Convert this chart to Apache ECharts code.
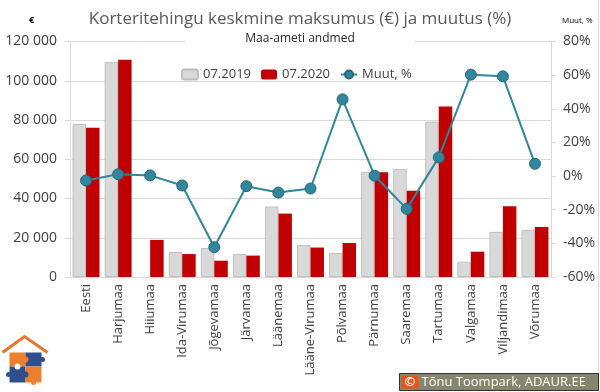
<!DOCTYPE html>
<html><head><meta charset="utf-8">
<script src="https://cdn.jsdelivr.net/npm/echarts@6/dist/echarts.min.js"></script>
<style>html,body{margin:0;padding:0;background:#fff}#c{width:600px;height:392px}</style>
</head><body><div id="c"></div>
<script>
const categories = ['Eesti','Harjumaa','Hiiumaa','Ida-Virumaa','Jõgevamaa','Järvamaa','Läänemaa','Lääne-Virumaa','Põlvamaa','Pärnumaa','Saaremaa','Tartumaa','Valgamaa','Viljandimaa','Võrumaa'];
const values2019 = [78000,109500,null,12800,14800,11700,35900,16300,12200,53600,55100,79200,7800,23000,24000];
const values2020 = [76000,110700,18900,11700,8300,10900,32300,15000,17300,53400,43900,86900,12900,36000,25500];
const changePct = [-2.6,1.1,0.4,-5.6,-42.3,-6.0,-9.8,-7.4,45.6,0.2,-19.5,11.1,60.3,59.3,7.3];
const leftTicks = {min:0,max:120000,interval:20000};
const rightTicks = {min:-60,max:80,interval:20};

const FONT = '"Open Sans", "Liberation Sans", sans-serif';
const chart = echarts.init(document.getElementById('c'), null, {renderer:'canvas'});
const fmtK = v => String(v).replace(/\B(?=(\d{3})+(?!\d))/g, ' ');
chart.setOption({
  animation:false,
  backgroundColor:'#fff',
  textStyle:{fontFamily:FONT},
  title:[
    {text:'Korteritehingu keskmine maksumus (€) ja muutus (%)', left:'center', top:6,
     textStyle:{fontFamily:FONT, fontSize:17, fontWeight:'normal', color:'#595959'}},
    {text:'Maa-ameti andmed', left:'center', top:31, backgroundColor:'#fff', padding:[2,60,2,60],
     textStyle:{fontFamily:FONT, fontSize:12, fontWeight:'normal', color:'#262626'}},
    {text:'€', left:24, top:11, textStyle:{fontFamily:FONT, fontSize:9, fontWeight:'bold', color:'#000'}},
    {text:'Muut, %', left:557, top:12, textStyle:{fontFamily:FONT, fontSize:8, fontWeight:'normal', color:'#000'}}
  ],
  legend:{
    left:176, top:63, itemWidth:16, itemHeight:10, itemGap:10,
    textStyle:{fontFamily:FONT, fontSize:13, color:'#404040'},
    data:['07.2019','07.2020','Muut, %']
  },
  grid:{left:70, right:49, top:41.5, bottom:115, containLabel:false},
  xAxis:{
    type:'category', data:categories,
    axisLine:{lineStyle:{color:'#D9D9D9'}},
    axisTick:{show:false},
    axisLabel:{rotate:90, interval:0, fontFamily:FONT, fontSize:13, color:'#404040', margin:7}
  },
  yAxis:[
    {type:'value', min:leftTicks.min, max:leftTicks.max, interval:leftTicks.interval,
     axisLine:{show:true, lineStyle:{color:'#D9D9D9'}},
     axisTick:{show:true, length:5, lineStyle:{color:'#D9D9D9'}},
     splitLine:{lineStyle:{color:'#D9D9D9'}},
     axisLabel:{formatter:fmtK, fontFamily:FONT, fontSize:14, color:'#404040', margin:13}},
    {type:'value', min:rightTicks.min, max:rightTicks.max, interval:rightTicks.interval,
     axisLine:{show:true, lineStyle:{color:'#D9D9D9'}},
     axisTick:{show:true, length:5, lineStyle:{color:'#D9D9D9'}},
     splitLine:{show:false},
     axisLabel:{formatter:'{value}%', fontFamily:FONT, fontSize:14, color:'#404040', margin:12}}
  ],
  series:[
    {name:'07.2019', type:'bar', data:values2019, barGap:'0%', barCategoryGap:'16%',
     itemStyle:{color:'#D9D9D9', borderColor:'#BFBFBF', borderWidth:1}},
    {name:'07.2020', type:'bar', data:values2020,
     itemStyle:{color:'#C00000'}},
    {name:'Muut, %', type:'line', yAxisIndex:1, data:changePct, z:5,
     symbol:'circle', symbolSize:11,
     lineStyle:{color:'#31859C', width:2},
     itemStyle:{color:'#31859C', borderColor:'#24687c', borderWidth:1}}
  ],
  graphic:[
    {type:'line', shape:{x1:598.5,y1:0,x2:598.5,y2:392}, style:{stroke:'#D9D9D9', lineWidth:1}},
    {type:'group', left:399, top:373, children:[
      {type:'rect', shape:{x:0,y:0,width:199,height:17}, style:{fill:'#86866f', stroke:'#333', lineWidth:1}},
      {type:'rect', shape:{x:2,y:2,width:17,height:13}, style:{fill:'#E8541C'}},
      {type:'text', style:{x:10.5,y:8.5, text:'©', fill:'#fff', font:'bold 13px '+FONT, textAlign:'center', textVerticalAlign:'middle'}},
      {type:'text', style:{x:22,y:9, text:'Tõnu Toompark, ADAUR.EE', fill:'#fff', font:'13px '+FONT, textVerticalAlign:'middle'}}
    ]},
    {type:'group', left:0, top:334, children:[
      {type:'polyline', shape:{points:[[3,18],[25,2],[48,18]]}, style:{stroke:'#E8762C', lineWidth:3, fill:null}},
      {type:'rect', shape:{x:10,y:18,width:16,height:14}, style:{fill:'#EE7F2D'}},
      {type:'rect', shape:{x:26,y:18,width:16,height:14}, style:{fill:'#2F4E8C'}},
      {type:'rect', shape:{x:10,y:32,width:16,height:16}, style:{fill:'#2F4E8C'}},
      {type:'rect', shape:{x:26,y:32,width:16,height:16}, style:{fill:'#EE7F2D'}},
      {type:'circle', shape:{cx:26,cy:25,r:3}, style:{fill:'#EE7F2D'}},
      {type:'circle', shape:{cx:43,cy:25,r:2.5}, style:{fill:'#2F4E8C'}},
      {type:'circle', shape:{cx:9,cy:40,r:2.5}, style:{fill:'#2F4E8C'}},
      {type:'circle', shape:{cx:26,cy:40,r:3}, style:{fill:'#2F4E8C'}},
      {type:'circle', shape:{cx:18,cy:32,r:3}, style:{fill:'#fff'}},
      {type:'circle', shape:{cx:34,cy:48,r:2.5}, style:{fill:'#EE7F2D'}}
    ]}
  ]
});
</script></body></html>
